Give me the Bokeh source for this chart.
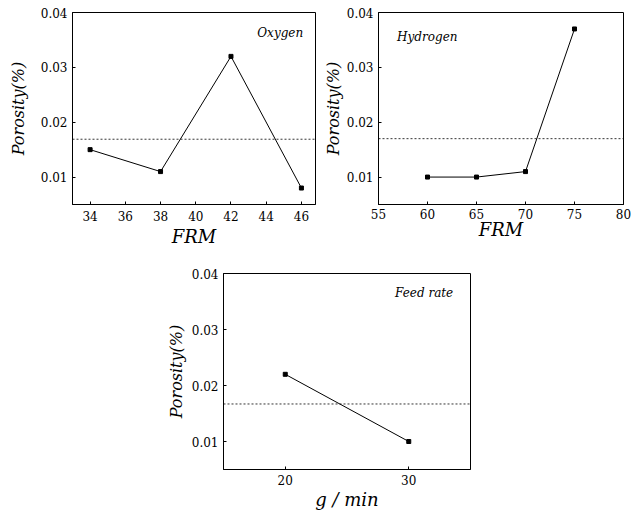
from bokeh.plotting import figure
from bokeh.layouts import column, row
from bokeh.models import Span, Label, FixedTicker, PrintfTickFormatter, Spacer
from bokeh.embed import file_html
from bokeh.resources import INLINE

# ---- data ----
oxy_x = [34, 38, 42, 46]
oxy_y = [0.015, 0.011, 0.032, 0.008]
oxy_ticks = [34, 36, 38, 40, 42, 44, 46]

hyd_x = [60, 65, 70, 75]
hyd_y = [0.010, 0.010, 0.011, 0.037]
hyd_ticks = [55, 60, 65, 70, 75, 80]

feed_x = [20, 30]
feed_y = [0.022, 0.010]
feed_ticks = [20, 30]

y_ticks = [0.01, 0.02, 0.03, 0.04]
mean_levels = [0.0169, 0.0170, 0.0167]

SERIF = "DejaVu Serif"


def panel(xs, ys, xr, xticks, xlabel, mean, note, note_xy, note_align,
          width, height, bl, br, bt, bb, ylab_standoff, xlab_standoff, xtick_standoff):
    p = figure(width=width, height=height, x_range=xr, y_range=(0.005, 0.04),
               output_backend="svg", toolbar_location=None,
               min_border_left=bl, min_border_right=br,
               min_border_top=bt, min_border_bottom=bb)
    p.grid.visible = False
    p.outline_line_color = "black"
    p.outline_line_width = 1
    p.background_fill_color = "white"
    p.border_fill_color = "white"

    p.line(xs, ys, line_color="black", line_width=1)
    p.scatter(xs, ys, marker="square", size=4, fill_color="black", line_color="black")

    p.add_layout(Span(location=mean, dimension="width", line_color="black",
                      line_width=0.8, line_dash="2 2"))

    p.add_layout(Label(x=note_xy[0], y=note_xy[1], text=note, text_font=SERIF,
                       text_font_style="italic", text_font_size="12px",
                       text_align=note_align, text_baseline="middle",
                       text_color="black"))

    xa = p.xaxis[0]
    ya = p.yaxis[0]
    xa.ticker = FixedTicker(ticks=xticks)
    ya.ticker = FixedTicker(ticks=y_ticks)
    ya.formatter = PrintfTickFormatter(format="%.2f")
    for ax in (xa, ya):
        ax.major_tick_in = 3
        ax.major_tick_out = 0
        ax.minor_tick_in = 0
        ax.minor_tick_out = 0
        ax.axis_line_color = "black"
        ax.major_tick_line_color = "black"
        ax.major_label_text_font = SERIF
        ax.major_label_text_font_size = "12px"
        ax.major_label_text_color = "black"
        ax.major_label_standoff = 5
        ax.axis_label_text_font = SERIF
        ax.axis_label_text_font_style = "italic"
        ax.axis_label_text_color = "black"
    xa.major_label_standoff = xtick_standoff
    xa.axis_label = xlabel
    xa.axis_label_text_font_size = "18px"
    xa.axis_label_standoff = xlab_standoff
    ya.axis_label = "Porosity(%)"
    ya.axis_label_text_font_size = "16px"
    ya.axis_label_standoff = ylab_standoff
    return p


p1 = panel(oxy_x, oxy_y, (33.0, 46.8), oxy_ticks, "FRM", mean_levels[0],
           "Oxygen", (46.1, 0.0362), "right",
           320, 260, 72, 5, 12, 53, 10, 2, 6)
p2 = panel(hyd_x, hyd_y, (55, 80), hyd_ticks, "FRM", mean_levels[1],
           "Hydrogen", (56.9, 0.0355), "left",
           324, 260, 58, 21, 7, 56, 1, -3, 4)
p3 = panel(feed_x, feed_y, (15, 35), feed_ticks, "g / min", mean_levels[2],
           "Feed rate", (33.6, 0.0365), "right",
           340, 253, 63, 30, 13, 44, 3, 1, 5)

layout = column(row(p1, p2), row(Spacer(width=160, height=253), p3))

open("out.html", "w").write(file_html(layout, INLINE))
